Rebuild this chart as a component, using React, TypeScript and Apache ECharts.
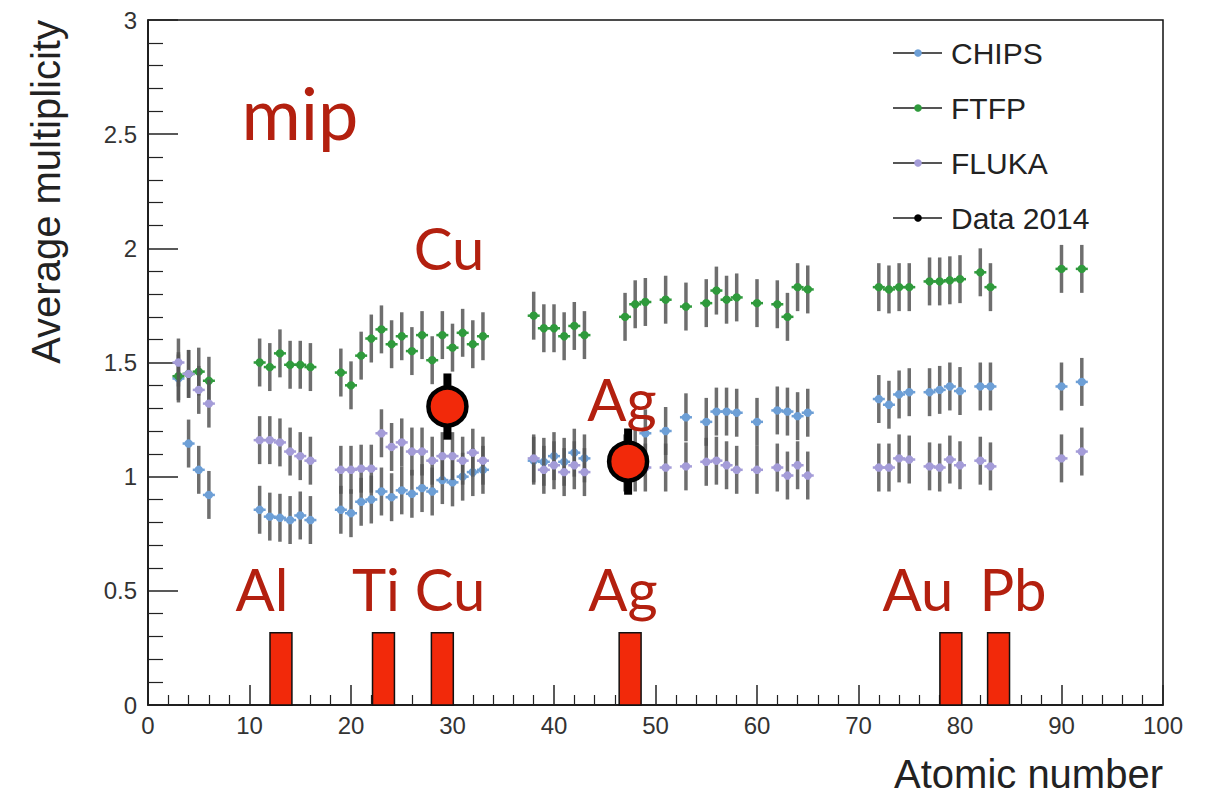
import React, { useEffect, useRef } from "react";
import * as echarts from "echarts";

// Atomic numbers of the simulated targets (shared by every model)
const atomicNumbers = [
  3, 4, 5, 6,
  11, 12, 13, 14, 15, 16,
  19, 20, 21, 22, 23, 24, 25, 26, 27, 28, 29, 30, 31, 32, 33,
  38, 39, 40, 41, 42, 43,
  47, 48, 49, 51, 53, 55, 56, 57, 58, 60, 62, 63, 64, 65,
  72, 73, 74, 75, 77, 78, 79, 80, 82, 83, 90, 92,
];

const chipsValues = [
  1.43, 1.145, 1.03, 0.92,
  0.855, 0.825, 0.82, 0.81, 0.83, 0.81,
  0.855, 0.84, 0.89, 0.9, 0.935, 0.91, 0.94, 0.925, 0.95, 0.935, 0.985, 0.975, 1.0, 1.02, 1.03,
  1.07, 1.065, 1.09, 1.065, 1.105, 1.08,
  1.08, 1.1, 1.19, 1.2, 1.26, 1.24, 1.285, 1.285, 1.28, 1.24, 1.29, 1.285, 1.265, 1.28,
  1.34, 1.315, 1.36, 1.37, 1.37, 1.38, 1.395, 1.375, 1.395, 1.395, 1.395, 1.415,
];

const ftfpValues = [
  1.44, 1.45, 1.46, 1.42,
  1.5, 1.48, 1.54, 1.49, 1.49, 1.48,
  1.456, 1.4, 1.53, 1.605, 1.645, 1.58, 1.615, 1.55, 1.62, 1.51, 1.62, 1.565, 1.63, 1.58, 1.615,
  1.705, 1.65, 1.65, 1.615, 1.66, 1.62,
  1.7, 1.755, 1.765, 1.775, 1.745, 1.76, 1.815, 1.775, 1.785, 1.76, 1.755, 1.7, 1.83, 1.82,
  1.83, 1.82, 1.83, 1.83, 1.855, 1.855, 1.86, 1.865, 1.895, 1.83, 1.91, 1.91,
];

const flukaValues = [
  1.5, 1.45, 1.38, 1.32,
  1.16, 1.16, 1.15, 1.11, 1.09, 1.07,
  1.03, 1.03, 1.035, 1.035, 1.19, 1.13, 1.15, 1.11, 1.11, 1.07, 1.09, 1.09, 1.07, 1.105, 1.07,
  1.08, 1.03, 1.05, 1.02, 1.05, 1.02,
  1.04, 1.04, 1.04, 1.04, 1.045, 1.065, 1.07, 1.05, 1.03, 1.03, 1.04, 1.005, 1.05, 1.005,
  1.04, 1.04, 1.08, 1.075, 1.045, 1.04, 1.075, 1.05, 1.07, 1.045, 1.08, 1.11,
];

const modelError = 0.105;

// Measurements
const dataZ = [29.5, 47.3];
const dataValues = [1.307, 1.066];
const dataErrors = [0.145, 0.145];

// Target markers along the axis
const targetNames = ["Al", "Ti", "Cu", "Ag", "Au", "Pb"];
const targetZ = [13.1, 23.2, 29.0, 47.5, 79.1, 83.8];
const targetMarkHeight = 0.316;

const seriesNames = ["CHIPS", "FTFP", "FLUKA", "Data 2014"];
const seriesColors = ["#6d9fd6", "#2f9a3c", "#a49cd8", "#000000"];

const SANS = "'Liberation Sans', Arial, Helvetica, sans-serif";
const LABEL_FONT = "Lato, 'Open Sans', sans-serif";
const RED_TEXT = "#b3200f";
const RED_FILL = "#f2290a";

function modelRenderer(color: string) {
  return (_params: any, api: any) => {
    const x = api.value(0);
    const y = api.value(1);
    const e = api.value(2);
    const c = api.coord([x, y]);
    const top = api.coord([x, y + e]);
    const bot = api.coord([x, y - e]);
    return {
      type: "group",
      children: [
        {
          type: "line",
          shape: { x1: c[0], y1: top[1], x2: c[0], y2: bot[1] },
          style: { stroke: "#555", lineWidth: 3.5, opacity: 0.85 },
        },
        {
          type: "line",
          shape: { x1: c[0] - 6, y1: c[1], x2: c[0] + 6, y2: c[1] },
          style: { stroke: color, lineWidth: 2.5 },
        },
        {
          type: "circle",
          shape: { cx: c[0], cy: c[1], r: 4.2 },
          style: { fill: color },
        },
      ],
    };
  };
}

function dataRenderer(_params: any, api: any) {
  const x = api.value(0);
  const y = api.value(1);
  const e = api.value(2);
  const c = api.coord([x, y]);
  const top = api.coord([x, y + e]);
  const bot = api.coord([x, y - e]);
  return {
    type: "group",
    children: [
      {
        type: "line",
        shape: { x1: c[0], y1: top[1], x2: c[0], y2: bot[1] },
        style: { stroke: "#000", lineWidth: 8 },
      },
      {
        type: "circle",
        shape: { cx: c[0], cy: c[1], r: 19 },
        style: { fill: RED_FILL, stroke: "#000", lineWidth: 4.5 },
      },
    ],
  };
}

function targetRenderer(_params: any, api: any) {
  const x = api.value(0);
  const h = api.value(1);
  const p0 = api.coord([x - 1.08, h]);
  const p1 = api.coord([x + 1.08, 0]);
  return {
    type: "rect",
    shape: { x: p0[0], y: p0[1], width: p1[0] - p0[0], height: p1[1] - p0[1] },
    style: { fill: RED_FILL, stroke: "#111", lineWidth: 1.5 },
  };
}

function redLabel(text: string, x: number, y: number, size: number) {
  return {
    type: "text",
    x,
    y,
    z: 100,
    style: {
      text,
      fill: RED_TEXT,
      font: `${size}px ${LABEL_FONT}`,
      textAlign: "center",
      textVerticalAlign: "middle",
    },
  };
}

export default function App() {
  const ref = useRef<HTMLDivElement>(null);

  useEffect(() => {
    if (!ref.current) return;
    const chart = echarts.init(ref.current, null, { renderer: "svg" });

    const modelSets = [chipsValues, ftfpValues, flukaValues];
    const modelSeries = modelSets.map((vals, k) => ({
      name: seriesNames[k],
      type: "custom",
      renderItem: modelRenderer(seriesColors[k]),
      encode: { x: 0, y: 1 },
      data: atomicNumbers.map((z, i) => [z, vals[i], modelError]),
      z: 3,
    }));

    const legendY = [53, 108, 163, 218];
    const legendGraphics: any[] = [];
    seriesNames.forEach((name, i) => {
      legendGraphics.push(
        {
          type: "line",
          shape: { x1: 893, y1: legendY[i], x2: 942, y2: legendY[i] },
          style: { stroke: "#555", lineWidth: 2 },
        },
        {
          type: "circle",
          shape: { cx: 918, cy: legendY[i], r: 3.8 },
          style: { fill: seriesColors[i] },
        },
        {
          type: "text",
          x: 951,
          y: legendY[i],
          style: {
            text: name,
            fill: "#222",
            font: `30px ${SANS}`,
            textAlign: "left",
            textVerticalAlign: "middle",
          },
        }
      );
    });

    const lowerLabelX = [262, 376, 450, 623, 918, 1013];

    const option: any = {
      animation: false,
      backgroundColor: "#fff",
      grid: {
        left: 148,
        right: 46,
        top: 20,
        bottom: 91,
        show: true,
        borderColor: "#111",
        borderWidth: 1.5,
        containLabel: false,
      },
      xAxis: {
        type: "value",
        min: 0,
        max: 100,
        interval: 10,
        axisLine: { show: true, lineStyle: { color: "#111", width: 1.5 } },
        axisTick: { show: true, inside: true, length: 20, lineStyle: { color: "#222", width: 1.5 } },
        minorTick: { show: true, splitNumber: 5, length: 10, lineStyle: { color: "#222", width: 1.2 } },
        splitLine: { show: false },
        axisLabel: { fontFamily: SANS, fontSize: 24, color: "#333", margin: 8 },
      },
      yAxis: {
        type: "value",
        min: 0,
        max: 3,
        interval: 0.5,
        axisLine: { show: true, lineStyle: { color: "#111", width: 1.5 } },
        axisTick: { show: true, inside: true, length: 30, lineStyle: { color: "#222", width: 1.5 } },
        minorTick: { show: true, splitNumber: 5, length: 15, lineStyle: { color: "#222", width: 1.2 } },
        splitLine: { show: false },
        axisLabel: { fontFamily: SANS, fontSize: 24, color: "#333", margin: 11 },
      },
      series: [
        {
          name: "targets",
          type: "custom",
          renderItem: targetRenderer,
          encode: { x: 0, y: 1 },
          data: targetZ.map((z) => [z, targetMarkHeight]),
          z: 2,
        },
        ...modelSeries,
        {
          name: seriesNames[3],
          type: "custom",
          renderItem: dataRenderer,
          encode: { x: 0, y: 1 },
          data: dataZ.map((z, i) => [z, dataValues[i], dataErrors[i]]),
          z: 5,
        },
      ],
      graphic: [
        {
          type: "text",
          x: 46,
          y: 20,
          rotation: Math.PI / 2,
          style: {
            text: "Average multiplicity",
            fill: "#222",
            font: `40px ${SANS}`,
            textAlign: "right",
            textVerticalAlign: "middle",
          },
        },
        {
          type: "text",
          x: 1163,
          y: 774,
          style: {
            text: "Atomic number",
            fill: "#222",
            font: `40px ${SANS}`,
            textAlign: "right",
            textVerticalAlign: "middle",
          },
        },
        ...legendGraphics,
        redLabel("mip", 300, 112, 72),
        redLabel("Cu", 449, 247, 58),
        redLabel("Ag", 622, 398, 58),
        ...targetNames.map((n, i) => redLabel(n, lowerLabelX[i], 588, 58)),
      ],
    };

    chart.setOption(option);
    return () => chart.dispose();
  }, []);

  return (
    <div
      ref={ref}
      style={{ position: "fixed", left: 0, top: 0, width: 1209, height: 796, background: "#fff" }}
    />
  );
}
